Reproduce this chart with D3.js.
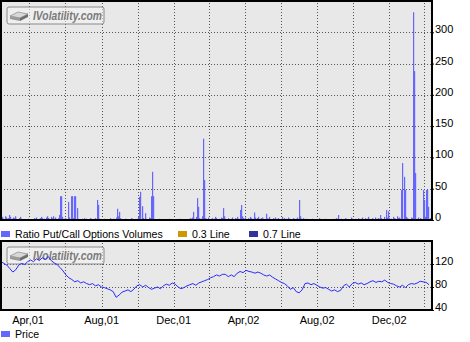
<!DOCTYPE html>
<html>
<head>
<meta charset="utf-8">
<script src="https://cdn.jsdelivr.net/npm/d3@7"></script>
<style>
  body { margin: 0; background: #fff; }
  svg { display: block; font-family: "Liberation Sans", Arial, sans-serif; }
  .grid line { stroke: #555; stroke-dasharray: 1,2; shape-rendering: crispEdges; }
  .grid .domain { display: none; }
  .yaxis text, .xaxis text { font-size: 11px; fill: #000; }
  .legend text { font-size: 10.6px; fill: #000; }
  .yaxis line { stroke: #000; }
  .yaxis .domain, .xaxis .domain, .xaxis line { display: none; }
</style>
</head>
<body>
<svg width="470" height="342"></svg>
<script>
(function (d3) {
  'use strict';

  // ratio put/call volumes, one value every 2 calendar days from 14 Mar 2001
  const ratioStart = new Date(2001, 2, 14);
  const ratioValues = [
    3,5,2,6,4,2,3,8,5,2,4,3,6,2,1,3,5,2,0,1,
    0,0,0,2,0,0,1,0,3,2,4,0,2,3,5,3,2,0,4,6,
    3,2,5,3,6,2,4,1,3,8,38,38,5,2,3,1,0,29,4,38,
    38,3,38,38,19,2,0,1,0,2,3,1,2,0,1,3,2,1,0,2,
    3,32,24,2,1,0,0,2,0,1,0,0,3,1,0,2,0,4,18,6,
    13,3,0,1,0,2,0,0,1,0,3,2,0,1,0,2,5,37,45,22,
    3,0,11,2,0,4,3,38,77,38,1,0,0,0,2,0,0,0,1,0,
    0,0,2,0,0,0,0,1,0,0,0,2,0,0,0,0,1,0,0,2,
    3,2,4,13,2,5,35,21,3,2,6,130,64,3,2,4,1,0,2,3,
    2,5,3,1,0,2,4,3,19,6,2,0,3,1,0,2,4,1,3,2,
    5,2,16,24,6,3,2,4,1,3,2,5,3,2,12,4,1,3,5,2,
    3,4,2,1,10,3,2,5,1,0,3,2,4,1,2,3,0,2,5,1,
    3,2,1,4,2,0,1,3,2,0,2,4,32,6,2,1,3,0,2,1,
    0,1,0,2,0,0,1,0,0,3,0,1,0,0,2,0,1,0,0,0,
    1,0,2,0,3,8,1,0,2,1,0,3,2,0,1,0,4,2,0,1,
    2,0,3,1,0,2,4,1,3,0,2,5,1,0,3,2,1,4,2,3,
    2,8,3,1,5,2,16,4,14,3,2,1,5,3,2,6,3,4,2,48,
    91,69,48,5,3,2,1,4,3,332,238,75,2,4,1,3,2,48,32,5,
    48,48,21,3,8
  ];

  // price, one value every 5 calendar days from 14 Mar 2001
  const priceValues = [
    124,121,118,112,106,110,118,121,119,124,
    127,124,129,126,131,128,133,126,122,119,
    114,108,101,96,93,89,91,87,89,86,
    84,86,82,84,80,79,77,75,72,62,
    66,71,73,75,72,76,82,84,80,83,
    79,76,78,80,77,82,85,83,87,85,
    80,77,79,82,84,86,83,87,89,91,
    93,96,98,101,99,102,102,98,101,98,
    104,107,105,109,107,106,104,106,104,101,
    99,101,97,94,91,88,86,82,76,79,
    72,70,75,86,87,84,86,83,80,78,
    79,76,73,75,72,74,82,85,80,86,
    88,85,87,84,86,89,91,88,90,89,
    92,88,86,85,82,80,83,79,84,86,
    85,87,90,89,88,84
  ];

  const xDomain = [new Date(2001, 2, 14), new Date(2003, 2, 14)];
  const xLabelDates = [
    new Date(2001, 3, 1), new Date(2001, 7, 1), new Date(2001, 11, 1),
    new Date(2002, 3, 1), new Date(2002, 7, 1), new Date(2002, 11, 1)
  ];
  const ratioTicks = [0, 50, 100, 150, 200, 250, 300];
  const priceTicks = [40, 80, 120];
  const refLines = [
    { label: '0.3 Line', value: 0.3, color: '#cc9900' },
    { label: '0.7 Line', value: 0.7, color: '#333399' }
  ];

  const ratioData = ratioValues.map((v, i) => ({ date: d3.timeDay.offset(ratioStart, 2 * i), value: v }));
  const priceData = priceValues.map((v, i) => ({ date: d3.timeDay.offset(ratioStart, 5 * i), value: v }));

  const svg = d3.select('svg');
  const left = 1, right = 432;
  const top1 = 1, bottom1 = 220;
  const top2 = 241, bottom2 = 310;
  const bg = '#e8e8e8';
  const barColor = '#6666ff';
  const priceColor = '#2a2aff';

  const xScale = d3.scaleTime().domain(xDomain).range([left, right]);
  const yRatio = d3.scaleLinear().domain([0, 350]).range([bottom1, top1]);
  const yPrice = d3.scaleLinear().domain([40, 160]).range([bottom2, top2]);

  // panel backgrounds
  svg.append('rect').attr('x', left).attr('y', top1)
    .attr('width', right - left).attr('height', bottom1 - top1).attr('fill', bg);
  svg.append('rect').attr('x', left).attr('y', top2)
    .attr('width', right - left).attr('height', bottom2 - top2).attr('fill', bg);

  // gridlines, every 2 months + value ticks
  const drawGrid = (yScale, ticks, y0, y1) => {
    svg.append('g').attr('class', 'grid')
      .attr('transform', `translate(0,${y1})`)
      .call(d3.axisBottom(xScale).ticks(d3.timeMonth.every(2)).tickSize(-(y1 - y0)).tickFormat(''));
    svg.append('g').attr('class', 'grid')
      .attr('transform', `translate(${left},0)`)
      .call(d3.axisRight(yScale).tickValues(ticks).tickSize(right - left).tickFormat(''));
  };
  drawGrid(yRatio, ratioTicks.filter(t => t > 0), top1, bottom1);
  drawGrid(yPrice, priceTicks.filter(t => t > 40), top2, bottom2);

  // watermark
  const watermark = y => {
    const w = svg.append('g').attr('transform', `translate(7,${y})`);
    w.append('rect').attr('width', 97).attr('height', 17).attr('rx', 2)
      .attr('fill', '#f4f4f4').attr('fill-opacity', 0.55).attr('stroke', '#8a8a8a');
    w.append('path').attr('d', 'M3,9 L11,5 L21,7 L13,11 Z').attr('fill', '#d8d8d8').attr('stroke', '#777').attr('stroke-width', 0.6);
    w.append('path').attr('d', 'M3,9 L13,11 L13,14 L3,12 Z').attr('fill', '#9a9a9a');
    w.append('path').attr('d', 'M13,11 L21,7 L21,10 L13,14 Z').attr('fill', '#6e6e6e');
    w.append('text').attr('x', 26).attr('y', 12.5)
      .attr('font-size', 12).attr('font-weight', 'bold').attr('font-style', 'italic')
      .attr('fill', '#7a7a7a').attr('textLength', 69).attr('lengthAdjust', 'spacingAndGlyphs')
      .text('IVolatility.com');
  };
  watermark(7);

  // ratio bars
  svg.append('g').selectAll('rect').data(ratioData.filter(d => d.value > 0))
    .enter().append('rect')
      .attr('x', d => Math.round(xScale(d.date)))
      .attr('y', d => yRatio(d.value))
      .attr('width', 1.2)
      .attr('height', d => yRatio(0) - yRatio(d.value))
      .attr('fill', barColor);

  // 0.3 / 0.7 lines
  svg.append('g').selectAll('line').data(refLines)
    .enter().append('line')
      .attr('x1', left).attr('x2', right)
      .attr('y1', d => yRatio(d.value)).attr('y2', d => yRatio(d.value))
      .attr('stroke', d => d.color);

  // price line
  watermark(247);
  svg.append('path').datum(priceData)
    .attr('fill', 'none').attr('stroke', priceColor).attr('stroke-width', 1)
    .attr('d', d3.line().x(d => xScale(d.date)).y(d => yPrice(d.value)));

  // frames
  svg.append('rect').attr('x', left).attr('y', top1)
    .attr('width', right - left).attr('height', bottom1 - top1)
    .attr('fill', 'none').attr('stroke', '#000').attr('stroke-width', 2);
  svg.append('rect').attr('x', left).attr('y', top2)
    .attr('width', right - left).attr('height', bottom2 - top2)
    .attr('fill', 'none').attr('stroke', '#000').attr('stroke-width', 2);

  // right axes
  const yAxis1 = svg.append('g').attr('class', 'yaxis')
    .attr('transform', `translate(${right},0)`)
    .call(d3.axisRight(yRatio).tickValues(ratioTicks).tickSize(2).tickPadding(1));
  const yAxis2 = svg.append('g').attr('class', 'yaxis')
    .attr('transform', `translate(${right},0)`)
    .call(d3.axisRight(yPrice).tickValues(priceTicks).tickSize(2).tickPadding(1));
  yAxis1.selectAll('text').attr('y', -3);
  yAxis2.selectAll('text').attr('y', -3);

  // month labels, left aligned on the gridline
  const xAxisG = svg.append('g').attr('class', 'xaxis')
    .attr('transform', `translate(0,${bottom2})`)
    .call(d3.axisBottom(xScale).tickValues(xLabelDates).tickSize(0).tickPadding(4)
      .tickFormat(d3.timeFormat('%b,%y')));
  xAxisG.selectAll('text').attr('text-anchor', 'start').attr('dy', '0.9em');

  // legends
  const legend1 = [
    { label: 'Ratio Put/Call Options Volumes', color: barColor, x: 1 },
    { label: refLines[0].label, color: refLines[0].color, x: 178 },
    { label: refLines[1].label, color: refLines[1].color, x: 249 }
  ];
  const lg = svg.append('g').attr('class', 'legend');
  lg.selectAll('rect').data(legend1).enter().append('rect')
    .attr('x', d => d.x).attr('y', 231).attr('width', 9).attr('height', 6).attr('fill', d => d.color);
  lg.selectAll('text').data(legend1).enter().append('text')
    .attr('x', d => d.x + 14).attr('y', 238).text(d => d.label);

  const lg2 = svg.append('g').attr('class', 'legend');
  lg2.append('rect').attr('x', 1).attr('y', 331).attr('width', 9).attr('height', 6).attr('fill', barColor);
  lg2.append('text').attr('x', 15).attr('y', 338).text('Price');

}(d3));
</script>
</body>
</html>
